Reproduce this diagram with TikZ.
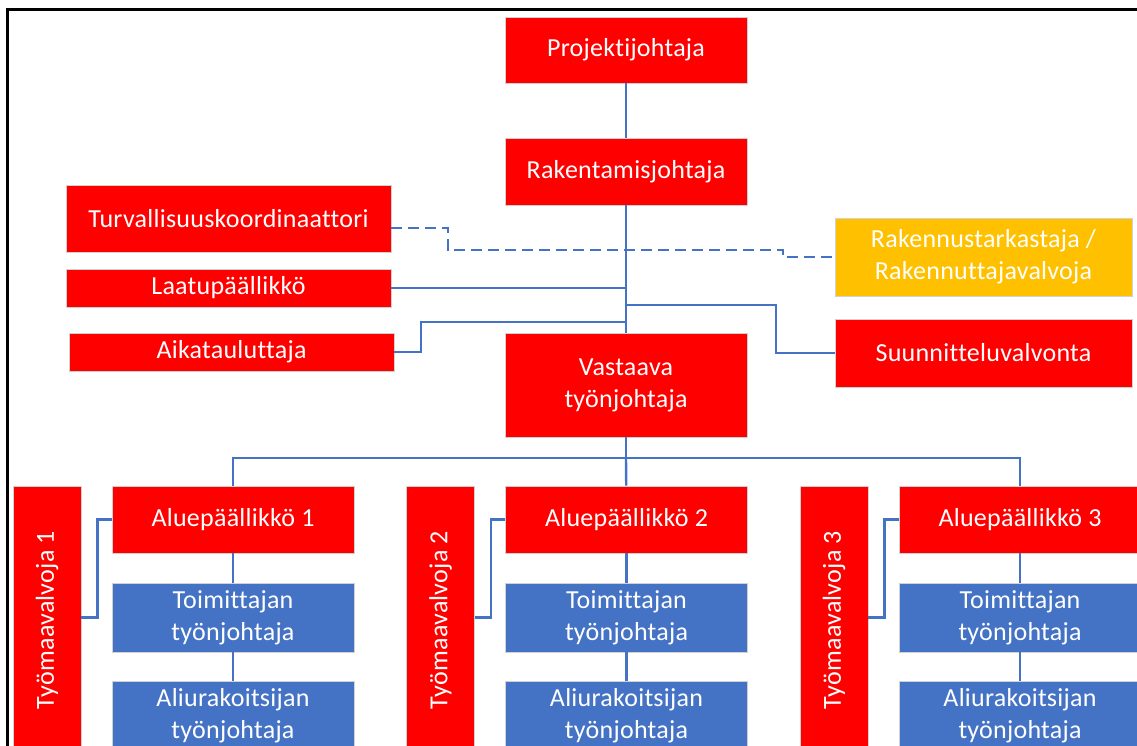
\documentclass[tikz,border=0pt]{standalone}
\usepackage{fontspec}
\setmainfont{Carlito}[Ligatures=NoCommon, LetterSpace=1]
\definecolor{boxred}{HTML}{FF0000}
\definecolor{boxblue}{HTML}{4472C4}
\definecolor{boxyellow}{HTML}{FFC000}
\definecolor{linkblue}{HTML}{4472C4}
\begin{document}
\begin{tikzpicture}[x=1pt,y=-1pt,
  box/.style={draw=black!18, line width=0.8pt, fill=boxred, text=white,
    inner sep=0pt, align=center, font=\fontsize{26}{32}\selectfont},
  bluebox/.style={box, fill=boxblue},
  yellowbox/.style={box, fill=boxyellow},
  conn/.style={draw=linkblue, line width=2.4pt},
  dconn/.style={conn, dash pattern=on 11pt off 6pt}]
\useasboundingbox (0,0) rectangle (1137,746);
\clip (0,0) rectangle (1137,746);
\draw[line width=3pt] (7,10) rectangle (1170,780);

\node[box, minimum width=242, minimum height=66] (pj) at (626,50) {Projektijohtaja};
\node[box, minimum width=242, minimum height=67] (rj) at (626,171.5) {Rakentamisjohtaja};
\node[box, minimum width=325, minimum height=67] (tk) at (228.5,218.5) {Turvallisuuskoordinaattori};
\node[box, minimum width=325, minimum height=38] (lp) at (228.5,288) {Laatupäällikkö};
\node[box, minimum width=325, minimum height=38] (at) at (231.5,352) {Aikatauluttaja};
\node[box, minimum width=242, minimum height=104] (vt) at (626,385) {Vastaava\\työnjohtaja};
\node[yellowbox, minimum width=297, minimum height=78] (rt) at (983.5,257) {Rakennustarkastaja /\\Rakennuttajavalvoja};
\node[box, minimum width=297, minimum height=68] (sv) at (983.5,353) {Suunnitteluvalvonta};

\draw[conn] (pj) -- (rj);
\draw[conn] (rj) -- (vt);
\draw[dconn] (tk.east |- 0,228) -| (448,250) -| (783,257) -- (rt.west |- 0,257);
\draw[conn] (lp.east) -- (lp.east -| rj.south);
\draw[conn] (at.east) -| (421,322) -- (rj.south |- 0,322);
\draw[conn] (sv.west) -| (776,305) -- (rj.south |- 0,305);

\foreach \k in {1,2,3}{
  \pgfmathsetmacro{\cx}{233+393.5*(\k-1)}
  \node[box, minimum width=242, minimum height=67] (ap\k) at (\cx,519.5) {Aluepäällikkö \k};
  \node[bluebox, minimum width=242, minimum height=69] (tj\k) at (\cx,617.5) {Toimittajan\\työnjohtaja};
  \node[bluebox, minimum width=242, minimum height=69] (al\k) at (\cx,715.5) {Aliurakoitsijan\\työnjohtaja};
  \node[box, rotate=90, minimum width=268, minimum height=68] (tv\k) at (\cx-186,620) {Työmaavalvoja \k};
  \draw[conn] (ap\k) -- (tj\k);
  \draw[conn] (tj\k) -- (al\k);
  \draw[conn] (ap\k.west) -- ++(-14,0) |- (tv\k.south |- tj\k);
}
\coordinate (bus) at (626,458);
\draw[conn] (vt) -- (vt.south |- bus);
\draw[conn] (ap1) |- (bus) -| (ap3);
\draw[conn] (bus) -- (ap2);
\end{tikzpicture}
\end{document}
